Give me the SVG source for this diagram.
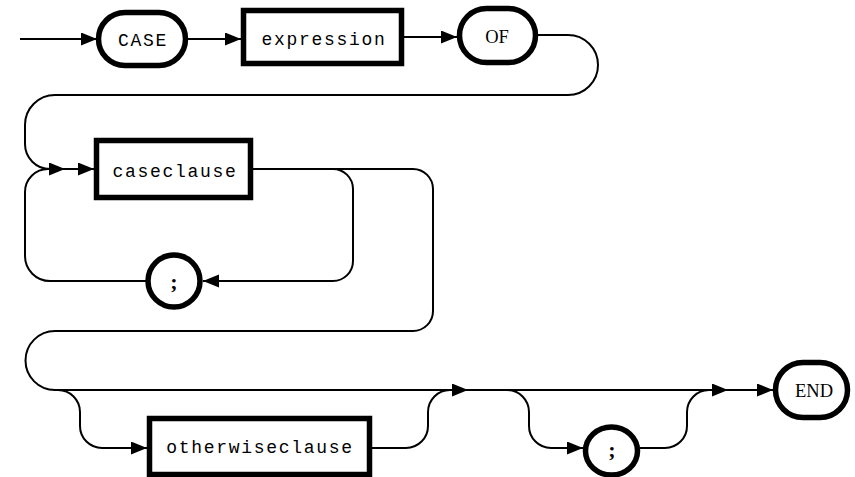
<svg xmlns="http://www.w3.org/2000/svg" width="855" height="477" viewBox="0 0 855 477">
<defs>
<marker id="arr" markerUnits="userSpaceOnUse" markerWidth="17" markerHeight="14" refX="16" refY="6.5" orient="auto">
<path d="M0,0 L16,6.5 L0,13 z" fill="#000"/>
</marker>
<style>
.ln{fill:none;stroke:#000;stroke-width:2}
.nd{fill:#fff;stroke:#000;stroke-width:5.5}
.mono{font-family:"Liberation Mono","DejaVu Sans Mono",monospace;font-size:18px;letter-spacing:1.7px;text-anchor:middle;fill:#000}
.ser{font-family:"Liberation Serif","DejaVu Serif",serif;font-size:18.5px;text-anchor:middle;fill:#000}
.semi{font-family:"Liberation Serif","DejaVu Serif",serif;font-size:22px;font-weight:bold;text-anchor:middle;fill:#000}
</style>
</defs>
<rect width="855" height="477" fill="#fff"/>
<g id="connectors">
<path class="ln" d="M20,39 H97" marker-end="url(#arr)"/>
<path class="ln" d="M188,39 H241" marker-end="url(#arr)"/>
<path class="ln" d="M404,37 H457" marker-end="url(#arr)"/>
<path class="ln" d="M538,35 H568 A30,30 0 0 1 568,95 H55 A30,30 0 0 0 25,125 V144 A25,25 0 0 0 50,169 H65" marker-end="url(#arr)"/>
<path class="ln" d="M65,169 H94" marker-end="url(#arr)"/>
<path class="ln" d="M146,281 H50 A25,25 0 0 1 25,256 V192 A23,23 0 0 1 48,169"/>
<path class="ln" d="M253,169 H333 A20,20 0 0 1 353,189 V261 A20,20 0 0 1 333,281 H203" marker-end="url(#arr)"/>
<path class="ln" d="M333,169 H413 A20,20 0 0 1 433,189 V311 A20,20 0 0 1 413,331 H55 A29.5,29.5 0 0 0 55,390 H468" marker-end="url(#arr)"/>
<path class="ln" d="M58,390 A22,22 0 0 1 80,412 V426 A22,22 0 0 0 102,448 H147" marker-end="url(#arr)"/>
<path class="ln" d="M372,448 H406 A22,22 0 0 0 428,426 V412 A22,22 0 0 1 450,390"/>
<path class="ln" d="M468,390 H728" marker-end="url(#arr)"/>
<path class="ln" d="M507,390 A22,22 0 0 1 529,412 V426 A22,22 0 0 0 551,448 H583" marker-end="url(#arr)"/>
<path class="ln" d="M640,448 H665 A22,22 0 0 0 687,426 V412 A22,22 0 0 1 709,390"/>
<path class="ln" d="M728,390 H773" marker-end="url(#arr)"/>
</g>
<g id="case">
<rect class="nd" x="98.5" y="12.5" width="87" height="53" rx="26.5"/>
<text class="mono" x="143" y="46">CASE</text>
</g>
<g id="expression">
<rect class="nd" x="243.5" y="10.5" width="158" height="53"/>
<text class="mono" x="324" y="45">expression</text>
</g>
<g id="of">
<rect class="nd" x="459.5" y="8.5" width="76" height="54" rx="27"/>
<text class="ser" x="497" y="43">OF</text>
</g>
<g id="caseclause">
<rect class="nd" x="96.5" y="140.5" width="154" height="57"/>
<text class="mono" x="175" y="177">caseclause</text>
</g>
<g id="semicolon1">
<circle class="nd" cx="174" cy="281" r="26"/>
<text class="semi" x="174" y="289">;</text>
</g>
<g id="otherwiseclause">
<rect class="nd" x="149.5" y="418.5" width="220" height="56"/>
<text class="mono" x="260" y="453">otherwiseclause</text>
</g>
<g id="semicolon2">
<ellipse class="nd" cx="611.5" cy="451" rx="26" ry="24"/>
<text class="semi" x="612" y="457">;</text>
</g>
<g id="end">
<rect class="nd" x="775.5" y="362.5" width="72" height="55" rx="27.5"/>
<text class="ser" x="814" y="397">END</text>
</g>
</svg>
